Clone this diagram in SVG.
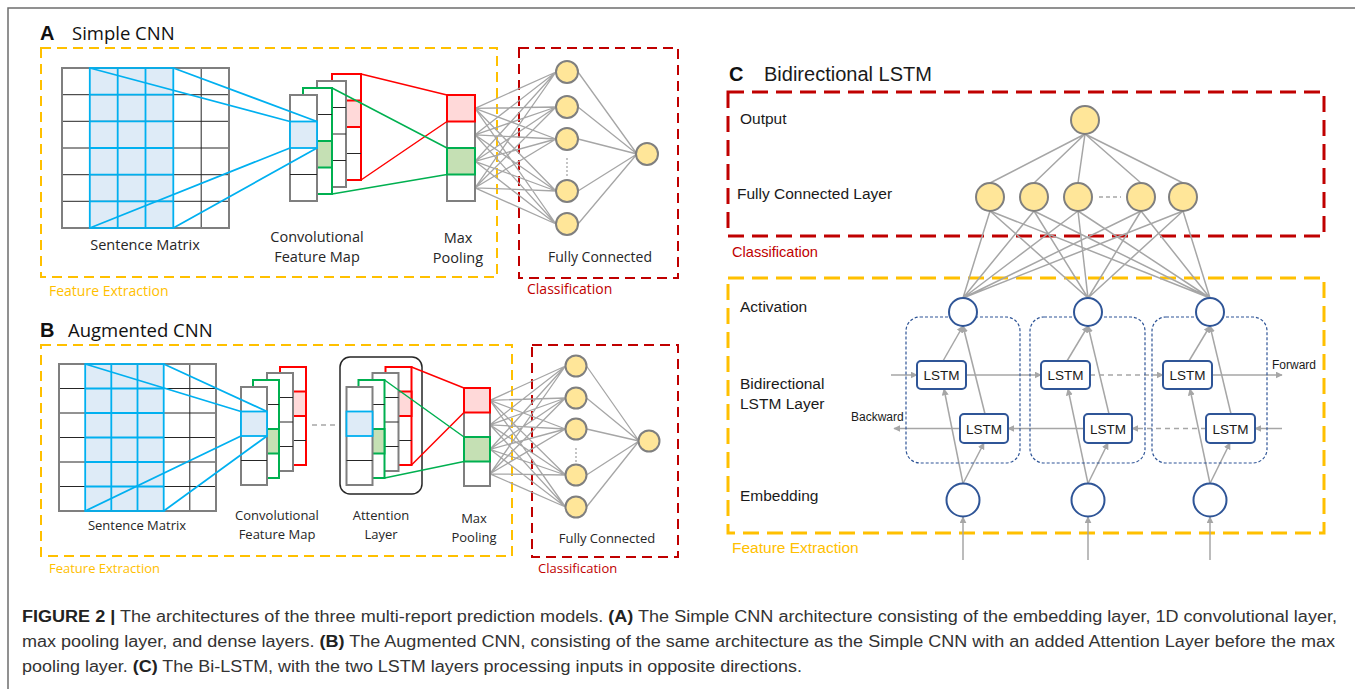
<svg xmlns="http://www.w3.org/2000/svg" width="1355" height="689" viewBox="0 0 1355 689">
<style>
.lbl{font-family:"Open Sans","Liberation Sans",sans-serif;fill:#262626}
.lblA{font-size:14.5px}
.lblB{font-size:13px}
.ttl{font-family:"Open Sans","Liberation Sans",sans-serif;font-size:18.5px;fill:#111}
.pl{font-family:"Liberation Sans",Arial,sans-serif;font-weight:bold;font-size:20px;fill:#111}
.c{font-family:"Liberation Sans",Arial,sans-serif;fill:#1a1a1a}
.fe{fill:#ffc000}
.cl{fill:#c00000}
.ybox{fill:none;stroke:#ffc000;stroke-width:2;stroke-dasharray:10 6}
.rbox{fill:none;stroke:#c00000;stroke-width:2;stroke-dasharray:10 6}
.ybox3{fill:none;stroke:#ffc000;stroke-width:3;stroke-dasharray:16 8}
.rbox3{fill:none;stroke:#c00000;stroke-width:3;stroke-dasharray:16 8}
.gline{fill:none;stroke:#a6a6a6;stroke-width:1.3}
.gline2{fill:none;stroke:#a6a6a6;stroke-width:1.5}
.fc{fill:#ffe699;stroke:#7f7f7f;stroke-width:2}
.grayc{fill:#fff;stroke:#7f7f7f;stroke-width:2}
.thin{fill:none;stroke:#262626;stroke-width:1}
.cy{fill:none;stroke:#00b0f0;stroke-width:1.8}
.bluef{fill:#deebf7;stroke:#00b0f0;stroke-width:1.8}
.grn{fill:#fff;stroke:#00b050;stroke-width:2}
.grnf{fill:#c5e0b4;stroke:#00b050;stroke-width:2}
.red{fill:#fff;stroke:#ff0000;stroke-width:2}
.redf{fill:#ffd9d9;stroke:#ff0000;stroke-width:2}
.bc{fill:#fff;stroke:#2f5597;stroke-width:2}
.lstm{fill:#fff;stroke:#2f5597;stroke-width:2}
.dbox{fill:none;stroke:#2f5597;stroke-width:1.2;stroke-dasharray:3 2}
.arr{fill:none;stroke:#a6a6a6;stroke-width:1.5;marker-end:url(#ah)}
.arrd{fill:none;stroke:#a6a6a6;stroke-width:1.5;stroke-dasharray:5 4;marker-end:url(#ah)}
</style>
<defs>
<marker id="ah" viewBox="0 0 10 10" refX="9" refY="5" markerWidth="7" markerHeight="7" markerUnits="userSpaceOnUse" orient="auto"><path d="M0,0 L10,5 L0,10 z" fill="#a6a6a6"/></marker>
</defs>
<rect width="1355" height="689" fill="#fff"/>
<!-- frame -->
<path d="M8,689 V8 H1355" fill="none" stroke="#6e6e6e" stroke-width="1.5"/>

<!-- ================= Panel A ================= -->
<g id="panelA-title"><text class="pl" x="40" y="40">A</text><text class="ttl" x="72" y="40">Simple CNN</text></g>
<g id="A-feature-extraction"><rect class="ybox" x="41" y="48" width="456" height="229"/><text class="lbl fe" x="49" y="296" font-size="14">Feature Extraction</text></g>
<g id="A-classification"><rect class="rbox" x="519" y="48" width="159" height="230"/><text class="lbl cl" x="527" y="294" font-size="14">Classification</text></g>

<g id="A-connectors">
<path class="gline" d="M475,108.3L556,72M475,108.3L556,107M475,108.3L556,139M475,108.3L556,191M475,108.3L556,224M475,134.8L556,72M475,134.8L556,107M475,134.8L556,139M475,134.8L556,191M475,134.8L556,224M475,161.3L556,72M475,161.3L556,107M475,161.3L556,139M475,161.3L556,191M475,161.3L556,224M475,187.8L556,72M475,187.8L556,107M475,187.8L556,139M475,187.8L556,191M475,187.8L556,224"/>
<path class="gline" d="M578,72L637,154M578,107L637,154M578,139L637,154M578,191L637,154M578,224L637,154"/>
<path d="M567,158V176" stroke="#a6a6a6" stroke-width="1.3" stroke-dasharray="2 2"/>
</g>

<g id="A-sentence-matrix">
<rect x="62" y="68" width="167" height="160" fill="#fff"/>
<rect x="89.8" y="68" width="83.5" height="160" fill="#deebf7"/>
<path class="thin" d="M62,94.7H229M62,121.3H229M62,148H229M62,174.7H229M62,201.3H229M201.2,68V228"/>
<path class="cy" d="M89.8,94.7H173.3M89.8,121.3H173.3M89.8,148H173.3M89.8,174.7H173.3M89.8,201.3H173.3M117.7,68V228M145.5,68V228"/>
<rect x="62" y="68" width="167" height="160" fill="none" stroke="#7f7f7f" stroke-width="2"/>
<rect x="89.8" y="68" width="83.5" height="160" class="cy"/>
<text class="lbl lblA" x="145" y="250" text-anchor="middle">Sentence Matrix</text>
</g>

<g id="A-conv-map">
<rect class="red" x="332" y="74" width="29" height="106"/>
<rect class="redf" x="332" y="100.5" width="29" height="26.5"/>
<path class="thin" d="M332,153.5H361"/>
<rect class="grayc" x="317" y="81" width="29" height="106"/>
<path class="thin" d="M317,107.5H346M317,134H346M317,160.5H346"/>
<rect class="grn" x="303" y="88" width="29" height="106"/>
<path class="thin" d="M303,114.5H332"/>
<rect class="grnf" x="303" y="141" width="29" height="26.5"/>
<rect class="grayc" x="290" y="95" width="27" height="106"/>
<path class="thin" d="M290,174.5H317"/>
<rect class="bluef" x="290" y="121.5" width="27" height="26.5"/>
<text class="lbl lblA" x="317" y="242" text-anchor="middle">Convolutional</text>
<text class="lbl lblA" x="317" y="262" text-anchor="middle">Feature Map</text>
</g>

<g id="A-max-pooling">
<rect class="grayc" x="447" y="95" width="28" height="106"/>
<rect class="redf" x="447" y="95" width="28" height="26.5"/>
<rect class="grnf" x="447" y="148" width="28" height="26.5"/>
<text class="lbl lblA" x="458" y="243" text-anchor="middle">Max</text>
<text class="lbl lblA" x="458" y="263" text-anchor="middle">Pooling</text>
</g>

<g id="A-map-connectors">
<path class="cy" d="M89.8,68L290,121.5M173.3,68L317,121.5M89.8,228L290,148M173.3,228L317,148"/>
<path fill="none" stroke="#ff0000" stroke-width="1.5" d="M361,74L447,95M361,180L447,121.5"/>
<path fill="none" stroke="#00b050" stroke-width="1.5" d="M332,88L447,148M332,194L447,174.5"/>
</g>

<g id="A-fully-connected">
<circle class="fc" cx="567" cy="72" r="11"/>
<circle class="fc" cx="567" cy="107" r="11"/>
<circle class="fc" cx="567" cy="139" r="11"/>
<circle class="fc" cx="567" cy="191" r="11"/>
<circle class="fc" cx="567" cy="224" r="11"/>
<circle class="fc" cx="647" cy="154" r="11"/>
<text class="lbl" x="600" y="262" text-anchor="middle" font-size="14">Fully Connected</text>
</g>

<!-- ================= Panel B ================= -->
<g id="panelB-title"><text class="pl" x="40" y="337">B</text><text class="ttl" x="68" y="337">Augmented CNN</text></g>
<g id="B-feature-extraction"><rect class="ybox" x="41" y="345" width="471" height="211"/><text class="lbl fe" x="49" y="573" font-size="13">Feature Extraction</text></g>
<g id="B-classification"><rect class="rbox" x="532" y="345" width="146" height="212"/><text class="lbl cl" x="538" y="573" font-size="13">Classification</text></g>

<g id="B-connectors">
<path class="gline" d="M490,400.3L565.5,366M490,400.3L565.5,398M490,400.3L565.5,429M490,400.3L565.5,475M490,400.3L565.5,507M490,424.8L565.5,366M490,424.8L565.5,398M490,424.8L565.5,429M490,424.8L565.5,475M490,424.8L565.5,507M490,449.3L565.5,366M490,449.3L565.5,398M490,449.3L565.5,429M490,449.3L565.5,475M490,449.3L565.5,507M490,473.8L565.5,366M490,473.8L565.5,398M490,473.8L565.5,429M490,473.8L565.5,475M490,473.8L565.5,507"/>
<path class="gline" d="M586.5,366L639,441M586.5,398L639,441M586.5,429L639,441M586.5,475L639,441M586.5,507L639,441"/>
<path d="M576,448V464" stroke="#a6a6a6" stroke-width="1.3" stroke-dasharray="2 2"/>
<path d="M312,425H336" stroke="#a6a6a6" stroke-width="1.5" stroke-dasharray="5 4"/>
</g>

<g id="B-sentence-matrix">
<rect x="59" y="364" width="157" height="147" fill="#fff"/>
<rect x="85.2" y="364" width="78.5" height="147" fill="#deebf7"/>
<path class="thin" d="M59,388.5H216M59,413H216M59,437.5H216M59,462H216M59,486.5H216M189.8,364V511"/>
<path class="cy" d="M85.2,388.5H163.7M85.2,413H163.7M85.2,437.5H163.7M85.2,462H163.7M85.2,486.5H163.7M111.3,364V511M137.5,364V511"/>
<rect x="59" y="364" width="157" height="147" fill="none" stroke="#7f7f7f" stroke-width="2"/>
<rect x="85.2" y="364" width="78.5" height="147" class="cy"/>
<text class="lbl lblB" x="137" y="530" text-anchor="middle">Sentence Matrix</text>
</g>

<g id="B-conv-map">
<g id="B-stack1">
<rect class="red" x="280" y="367" width="26" height="98"/>
<rect class="redf" x="280" y="391.5" width="26" height="24.5"/>
<path class="thin" d="M280,440.5H306"/>
<rect class="grayc" x="267" y="373" width="26" height="98"/>
<path class="thin" d="M267,397.5H293M267,422H293M267,446.5H293"/>
<rect class="grn" x="253" y="380" width="26" height="98"/>
<path class="thin" d="M253,404.5H279"/>
<rect class="grnf" x="253" y="429" width="26" height="24.5"/>
<rect class="grayc" x="241" y="387" width="26" height="98"/>
<path class="thin" d="M241,460.5H267"/>
<rect class="bluef" x="241" y="411.5" width="26" height="24.5"/>
</g>
<text class="lbl lblB" x="277" y="520" text-anchor="middle">Convolutional</text>
<text class="lbl lblB" x="277" y="539" text-anchor="middle">Feature Map</text>
</g>

<g id="B-attention-layer">
<rect x="340" y="357" width="82" height="137" rx="10" fill="none" stroke="#262626" stroke-width="1.5"/>
<g transform="translate(105.5,0)">
<rect class="red" x="280" y="367" width="26" height="98"/>
<rect class="redf" x="280" y="391.5" width="26" height="24.5"/>
<path class="thin" d="M280,440.5H306"/>
<rect class="grayc" x="267" y="373" width="26" height="98"/>
<path class="thin" d="M267,397.5H293M267,422H293M267,446.5H293"/>
<rect class="grn" x="253" y="380" width="26" height="98"/>
<path class="thin" d="M253,404.5H279"/>
<rect class="grnf" x="253" y="429" width="26" height="24.5"/>
<rect class="grayc" x="241" y="387" width="26" height="98"/>
<path class="thin" d="M241,460.5H267"/>
<rect class="bluef" x="241" y="411.5" width="26" height="24.5"/>
</g>
<text class="lbl lblB" x="381" y="520" text-anchor="middle">Attention</text>
<text class="lbl lblB" x="381" y="539" text-anchor="middle">Layer</text>
</g>

<g id="B-max-pooling">
<rect class="grayc" x="464" y="388" width="26" height="98"/>
<rect class="redf" x="464" y="388" width="26" height="24.5"/>
<rect class="grnf" x="464" y="437" width="26" height="24.5"/>
<text class="lbl lblB" x="474" y="523" text-anchor="middle">Max</text>
<text class="lbl lblB" x="474" y="542" text-anchor="middle">Pooling</text>
</g>

<g id="B-map-connectors">
<path class="cy" d="M85.2,364L241,411.5M163.7,364L267,411.5M85.2,511L241,436M163.7,511L267,436"/>
<path fill="none" stroke="#ff0000" stroke-width="1.5" d="M411.5,367L464,388M411.5,465L464,412.5"/>
<path fill="none" stroke="#00b050" stroke-width="1.5" d="M384.5,380L464,437M384.5,478L464,461.5"/>
</g>

<g id="B-fully-connected">
<circle class="fc" cx="576" cy="366" r="10.5"/>
<circle class="fc" cx="576" cy="398" r="10.5"/>
<circle class="fc" cx="576" cy="429" r="10.5"/>
<circle class="fc" cx="576" cy="475" r="10.5"/>
<circle class="fc" cx="576" cy="507" r="10.5"/>
<circle class="fc" cx="649" cy="441" r="10.5"/>
<text class="lbl" x="607" y="543" text-anchor="middle" font-size="13">Fully Connected</text>
</g>

<!-- ================= Panel C ================= -->
<g id="panelC-title"><text class="pl" x="729" y="81">C</text><text class="c" x="764" y="81" font-size="20">Bidirectional LSTM</text></g>
<g id="C-classification"><rect class="rbox3" x="728" y="92" width="596" height="144"/><text class="c cl" x="732" y="257" font-size="14.6">Classification</text></g>
<g id="C-feature-extraction"><rect class="ybox3" x="728" y="278" width="596" height="255"/><text class="c fe" x="732" y="553" font-size="15.5">Feature Extraction</text></g>

<g id="C-row-labels">
<text class="c" x="740" y="124" font-size="15.5">Output</text>
<text class="c" x="737" y="199" font-size="15.5">Fully Connected Layer</text>
<text class="c" x="740" y="312" font-size="15.5">Activation</text>
<text class="c" x="740" y="389" font-size="15.5">Bidirectional</text>
<text class="c" x="740" y="409" font-size="15.5">LSTM Layer</text>
<text class="c" x="740" y="501" font-size="15.5">Embedding</text>
<text class="c" x="851" y="421" font-size="12">Backward</text>
<text class="c" x="1272" y="369" font-size="12">Forward</text>
</g>

<g id="C-connectors">
<path class="gline2" d="M1085,134L990,183M1085,134L1034,183M1085,134L1078,183M1085,134L1141,183M1085,134L1183,183"/>
<path class="gline2" d="M990,211L963,298M990,211L1088,298M990,211L1210,298M1034,211L963,298M1034,211L1088,298M1034,211L1210,298M1078,211L963,298M1078,211L1088,298M1078,211L1210,298M1141,211L963,298M1141,211L1088,298M1141,211L1210,298M1183,211L963,298M1183,211L1088,298M1183,211L1210,298"/>
<path d="M1099,197H1121" stroke="#a6a6a6" stroke-width="1.5" stroke-dasharray="4 3"/>
<!-- forward chain -->
<path class="arr" d="M891,375H917"/>
<path class="arr" d="M966,375H1041"/>
<path class="arrd" d="M1090,375H1163"/>
<path class="arr" d="M1212,375H1282"/>
<!-- backward chain -->
<path class="arr" d="M1282,428.5H1255"/>
<path class="arrd" d="M1206,428.5H1132"/>
<path class="arr" d="M1084,428.5H1008"/>
<path class="arr" d="M960,428.5H894"/>
<!-- column 1 -->
<path class="arr" d="M963,483.5L944,389"/>
<path class="arr" d="M963,483.5L984,443"/>
<path class="arr" d="M943,361L963,326"/>
<path class="arr" d="M985,414L963,326"/>
<path class="arr" d="M963,560V517"/>
<!-- column 2 -->
<path class="arr" d="M1088,483.5L1068,389"/>
<path class="arr" d="M1088,483.5L1108,443"/>
<path class="arr" d="M1067,361L1088,326"/>
<path class="arr" d="M1109,414L1088,326"/>
<path class="arr" d="M1088,560V517"/>
<!-- column 3 -->
<path class="arr" d="M1210,483.5L1190,389"/>
<path class="arr" d="M1210,483.5L1230,443"/>
<path class="arr" d="M1189,361L1210,326"/>
<path class="arr" d="M1231,414L1210,326"/>
<path class="arr" d="M1210,560V517"/>
</g>

<g id="C-output"><circle class="fc" cx="1085" cy="120" r="14" stroke-width="2.5"/></g>
<g id="C-fc-layer">
<circle class="fc" cx="990" cy="197" r="14" stroke-width="2.5"/>
<circle class="fc" cx="1034" cy="197" r="14" stroke-width="2.5"/>
<circle class="fc" cx="1078" cy="197" r="14" stroke-width="2.5"/>
<circle class="fc" cx="1141" cy="197" r="14" stroke-width="2.5"/>
<circle class="fc" cx="1183" cy="197" r="14" stroke-width="2.5"/>
</g>

<g id="C-step1">
<rect class="dbox" x="906" y="317" width="114" height="146" rx="14"/>
<circle class="bc" cx="963" cy="312" r="14"/>
<rect class="lstm" x="917" y="361" width="49" height="28" rx="4"/>
<text class="c" x="941.5" y="380" font-size="13.5" text-anchor="middle">LSTM</text>
<rect class="lstm" x="960" y="414" width="48" height="29" rx="4"/>
<text class="c" x="984" y="433.5" font-size="13.5" text-anchor="middle">LSTM</text>
<circle class="bc" cx="963" cy="500" r="16.5"/>
</g>
<g id="C-step2">
<rect class="dbox" x="1030" y="317" width="115" height="146" rx="14"/>
<circle class="bc" cx="1088" cy="312" r="14"/>
<rect class="lstm" x="1041" y="361" width="49" height="28" rx="4"/>
<text class="c" x="1065.5" y="380" font-size="13.5" text-anchor="middle">LSTM</text>
<rect class="lstm" x="1084" y="414" width="48" height="29" rx="4"/>
<text class="c" x="1108" y="433.5" font-size="13.5" text-anchor="middle">LSTM</text>
<circle class="bc" cx="1088" cy="500" r="16.5"/>
</g>
<g id="C-step3">
<rect class="dbox" x="1152" y="317" width="115" height="146" rx="14"/>
<circle class="bc" cx="1210" cy="312" r="14"/>
<rect class="lstm" x="1163" y="361" width="49" height="28" rx="4"/>
<text class="c" x="1187.5" y="380" font-size="13.5" text-anchor="middle">LSTM</text>
<rect class="lstm" x="1206" y="414" width="49" height="29" rx="4"/>
<text class="c" x="1230.5" y="433.5" font-size="13.5" text-anchor="middle">LSTM</text>
<circle class="bc" cx="1210" cy="500" r="16.5"/>
</g>

<!-- ================= Caption ================= -->
<g id="caption" font-family="'Liberation Sans',Arial,sans-serif" font-size="16" fill="#333">
<text x="22" y="622" textLength="1315" lengthAdjust="spacingAndGlyphs"><tspan font-weight="bold" fill="#222">FIGURE 2 |</tspan> The architectures of the three multi-report prediction models. <tspan font-weight="bold" fill="#222">(A)</tspan> The Simple CNN architecture consisting of the embedding layer, 1D convolutional layer,</text>
<text x="22" y="647" textLength="1313" lengthAdjust="spacingAndGlyphs">max pooling layer, and dense layers. <tspan font-weight="bold" fill="#222">(B)</tspan> The Augmented CNN, consisting of the same architecture as the Simple CNN with an added Attention Layer before the max</text>
<text x="22" y="672" textLength="780" lengthAdjust="spacingAndGlyphs">pooling layer. <tspan font-weight="bold" fill="#222">(C)</tspan> The Bi-LSTM, with the two LSTM layers processing inputs in opposite directions.</text>
</g>
</svg>
